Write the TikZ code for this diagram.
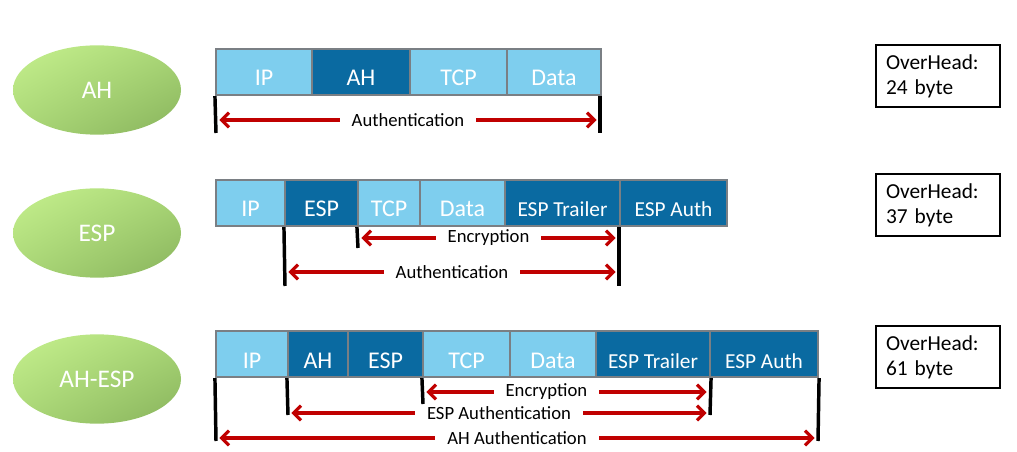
\documentclass[tikz,border=0pt]{standalone}
\usepackage{fontspec}
\setmainfont{Carlito}
\usepackage{tikz}
\usetikzlibrary{shapes.geometric,arrows.meta,shadings}

\definecolor{lite}{HTML}{7ECEEE}
\definecolor{dark}{HTML}{0A6AA1}
\definecolor{cellrim}{HTML}{7A7F84}
\definecolor{spanred}{HTML}{C00000}
\definecolor{grtop}{HTML}{C6F18E}
\definecolor{grmid}{HTML}{A9D676}
\definecolor{grbot}{HTML}{88B35C}

\tikzset{
  cell/.style={draw=cellrim, line width=1.6pt, text=white, inner sep=0pt,
    minimum height=34.5pt, text height=21pt, text depth=0pt,
    font=\fontsize{18}{20}\selectfont},
  lite/.style={fill=lite},
  dark/.style={fill=dark},
  darks/.style={fill=dark, font=\fontsize{16}{18}\selectfont},
  proto/.style={ellipse, minimum width=126pt, minimum height=67pt, text=white,
    upper left=grtop, upper right=grmid, lower left=grmid, lower right=grbot,
    font=\fontsize{19}{21}\selectfont},
  tick/.style={draw=black, line width=2.6pt},
  span/.style={color=spanred, line width=2.3pt, shorten <=2.6pt, shorten >=2.6pt,
    {Straight Barb[length=5.5pt,width=11pt]}-{Straight Barb[length=5.5pt,width=11pt]}},
  lab/.style={fill=white, text=black, inner xsep=9pt, inner ysep=0pt,
    font=\fontsize{14}{16}\selectfont},
  oh/.style={draw=black, line width=1pt, text width=78pt, align=left, inner xsep=7.5pt,
    minimum height=46.5pt, font=\fontsize{16}{18.75}\selectfont}
}

\begin{document}
\begin{tikzpicture}[x=0.75pt,y=-0.75pt]
  \useasboundingbox (0,0) rectangle (1017,452);

  % protocols
  \node[proto] (p-ah) at (97,90) {AH};
  \node[proto] (p-esp) at (97,233) {ESP};
  \node[proto] (p-ahesp) at (97,379) {AH-ESP};

  % AH packet
  \foreach \n/\a/\b/\s/\t in {ip/216/312/lite/IP, ah/312/410/dark/AH, tcp/410/507/lite/TCP, data/507/601/lite/Data}
    \node[cell,\s,minimum width=(\b-\a)*0.75pt] (r1-\n) at ({(\a+\b)/2},72) {\t};
  \coordinate (r1-ta) at (216,133);
  \coordinate (r1-tb) at (600,133);
  \draw[tick] (r1-ip.south west) -- (r1-ta);
  \draw[tick] (r1-tb |- r1-data.south) -- (r1-tb);
  \path[span]
  (r1-ta |- 0,120) edge node[lab] {Authentication} (r1-tb |- 0,120)
  ;

  % ESP packet
  \foreach \n/\a/\b/\s/\t in {ip/216/285/lite/IP, esp/285/358/dark/ESP, tcp/358/420/lite/TCP, data/420/505/lite/Data, trl/505/620/darks/ESP Trailer, auth/620/727/darks/ESP Auth}
    \node[cell,\s,minimum width=(\b-\a)*0.75pt] (r2-\n) at ({(\a+\b)/2},203) {\t};
  \coordinate (r2-ta) at (285,286);
  \coordinate (r2-tb) at (358,248);
  \coordinate (r2-tc) at (619,286);
  \draw[tick] (r2-esp.south west) -- (r2-ta);
  \draw[tick] (r2-tcp.south west) -- (r2-tb);
  \draw[tick] (r2-tc |- r2-trl.south) -- (r2-tc);
  \path[span]
  (r2-tb |- 0,238) edge node[lab] {Encryption} (r2-tc |- 0,238)
  (r2-ta |- 0,272) edge node[lab] {Authentication} (r2-tc |- 0,272)
  ;

  % AH-ESP packet
  \foreach \n/\a/\b/\s/\t in {ip/216/288/lite/IP, ah/288/348/dark/AH, esp/348/423/dark/ESP, tcp/423/510/lite/TCP, data/510/596/lite/Data, trl/596/710/darks/ESP Trailer, auth/710/818/darks/ESP Auth}
    \node[cell,\s,minimum width=(\b-\a)*0.75pt] (r3-\n) at ({(\a+\b)/2},354) {\t};
  \coordinate (r3-ta) at (216,441);
  \coordinate (r3-tb) at (288,415);
  \coordinate (r3-tc) at (423,404);
  \coordinate (r3-td) at (710,415);
  \coordinate (r3-te) at (818,441);
  \draw[tick] (r3-ip.south west) -- (r3-ta);
  \draw[tick] (r3-ah.south west) -- (r3-tb);
  \draw[tick] (r3-tcp.south west) -- (r3-tc);
  \draw[tick] (r3-trl.south east) -- (r3-td);
  \draw[tick] (r3-auth.south east) -- (r3-te);
  \path[span]
  (r3-tc |- 0,392) edge node[lab,pos=.43] {Encryption} (r3-td |- 0,392)
  (r3-tb |- 0,413) edge node[lab] {ESP Authentication} (r3-td |- 0,413)
  (r3-ta |- 0,438) edge node[lab] {AH Authentication} (r3-te |- 0,438)
  ;

  % overhead
  \node[oh] (o-ah) at (938,76) {OverHead:\\24 byte};
  \node[oh] (o-esp) at (938,205) {OverHead:\\37 byte};
  \node[oh] (o-ahesp) at (938,357) {OverHead:\\61 byte};
\end{tikzpicture}
\end{document}
